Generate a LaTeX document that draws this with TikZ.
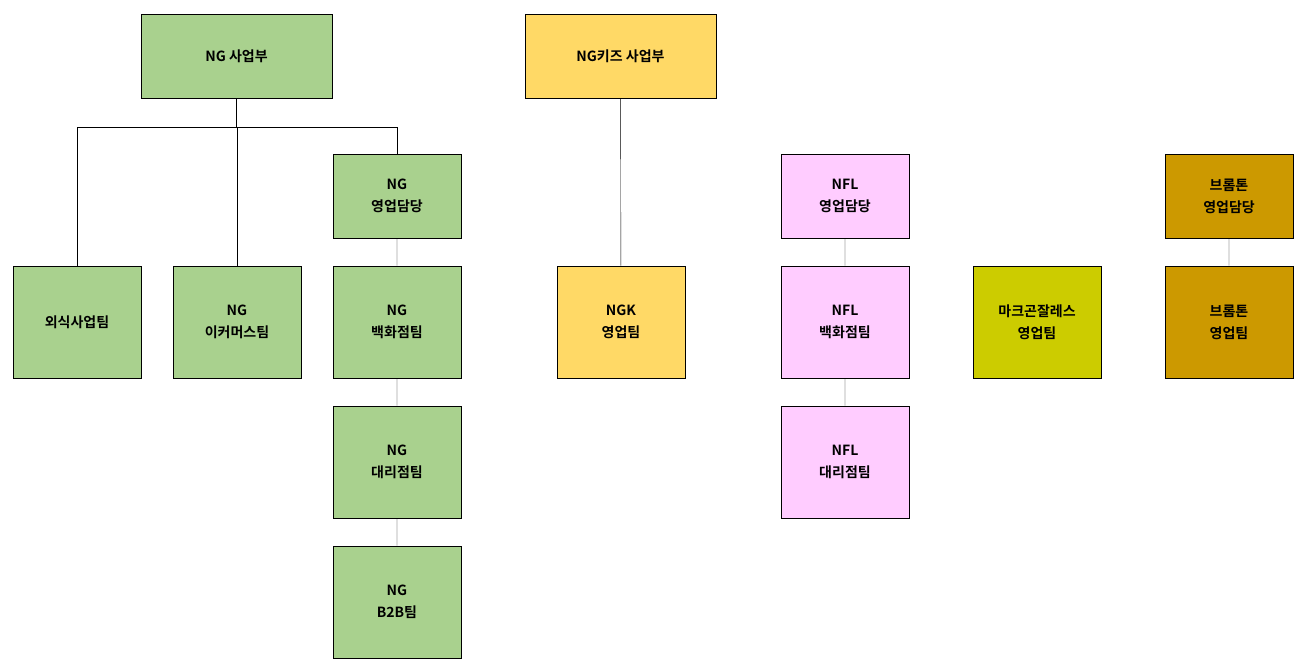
\documentclass[tikz,border=0pt]{standalone}
\usepackage{fontspec}
\setmainfont{Noto Sans CJK KR}[BoldFont={Noto Sans CJK KR Bold}]
\begin{document}
\begin{tikzpicture}[x=1pt,y=-1pt,
 bx/.style={draw,thick,minimum width=128pt,minimum height=112pt,align=center,font=\bfseries\fontsize{14}{22}\selectfont,inner sep=0pt},
 sm/.style={bx,minimum height=84pt},
 top/.style={bx,minimum width=191pt,minimum height=84pt},
 ln/.style={draw,thin}]
\useasboundingbox (0,0) rectangle (1307,664);
\definecolor{g}{HTML}{A9D18E}\definecolor{y}{HTML}{FFD966}\definecolor{p}{HTML}{FFCCFF}\definecolor{o}{HTML}{CCCC00}\definecolor{b}{HTML}{CC9900}
\node[top,fill=g] (ng) at (236.5,56) {NG 사업부};
\node[top,fill=y] (ngk) at (620.5,56) {NG키즈 사업부};
\node[bx,fill=g] (ws) at (77,322) {외식사업팀};
\node[bx,fill=g] (ec) at (237,322) {NG\\이커머스팀};
\node[sm,fill=g] (ny) at (397,196) {NG\\영업담당};
\node[bx,fill=g] (nb) at (397,322) {NG\\백화점팀};
\node[bx,fill=g] (nd) at (397,462) {NG\\대리점팀};
\node[bx,fill=g] (n2) at (397,602) {NG\\B2B팀};
\node[bx,fill=y] (kt) at (621,322) {NGK\\영업팀};
\node[sm,fill=p] (fy) at (845,196) {NFL\\영업담당};
\node[bx,fill=p] (fb) at (845,322) {NFL\\백화점팀};
\node[bx,fill=p] (fd) at (845,462) {NFL\\대리점팀};
\node[bx,fill=o] (mg) at (1037,322) {마크곤잘레스\\영업팀};
\node[sm,fill=b] (by) at (1229,196) {브롬톤\\영업담당};
\node[bx,fill=b] (bt) at (1229,322) {브롬톤\\영업팀};
\coordinate (j) at (236.5,127);
\draw[ln] (ng.south) -- (j);
\draw[ln] (ws.north) |- (j);
\draw[ln] (ec.north) -- (ec.north |- j);
\draw[ln] (ny.north) |- (j);
\draw[ln] (ny)--(nb) (nb)--(nd) (nd)--(n2) (ngk)--(kt) (fy)--(fb) (fb)--(fd) (by)--(bt);
\end{tikzpicture}
\end{document}
